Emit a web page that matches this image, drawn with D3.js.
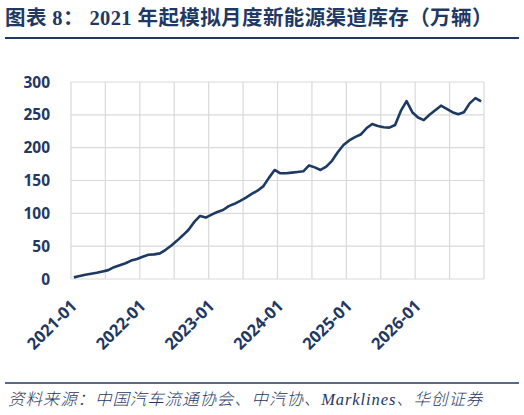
<!DOCTYPE html>
<html><head><meta charset="utf-8">
<script src="https://cdn.jsdelivr.net/npm/d3@7/dist/d3.min.js"></script>
<style>
html,body{margin:0;padding:0;background:#fff;}
svg{display:block;}
</style>
</head><body>
<svg id="c" width="524" height="415"></svg>
<script>
// ---- data ----
const titleText = "图表 8： 2021 年起模拟月度新能源渠道库存（万辆）";
const sourceText = "资料来源：中国汽车流通协会、中汽协、Marklines、华创证券";
const years = [2021, 2022, 2023, 2024, 2025, 2026];
const months = [];
years.forEach(y => { for (let m = 1; m <= 12; m++) months.push(y + "-" + String(m).padStart(2, "0")); });
const inventory = [
  2.5, 4.5, 6.5, 8, 9.5, 11.5, 13.5, 18, 21, 24, 28, 30.5,
  34, 37, 37.5, 39, 44.5, 51, 58.5, 66.5, 75, 87, 96, 93.5,
  98, 102, 105, 111, 114.5, 119, 124, 129.5, 134.5, 141, 154, 166,
  161, 161, 162, 163, 164, 173, 170, 166, 171, 180, 193, 204,
  211, 216, 220, 229.5, 236, 233, 231, 230.5, 234.5, 256, 271, 254,
  246, 242, 250, 257, 264, 259, 254, 251, 254, 267.5, 275.5, 270.5
];
const yTicks = [0, 50, 100, 150, 200, 250, 300];
const xLabels = ["2021-01", "2022-01", "2023-01", "2024-01", "2025-01", "2026-01"];

// ---- drawing ----
const navy = "#1f3864";
const lineColor = "#1c3a63";
const grid = "#d9d9d9";
const svg = d3.select("#c");
const L = 71, R = 484, T = 82, B = 279;

const x = d3.scaleBand().domain(months).range([L, R]).padding(0);
const y = d3.scaleLinear().domain([0, 300]).range([B, T]);
const cx = d => x(d) + x.bandwidth() / 2;

// title
svg.append("text").attr("x", 5).attr("y", 25)
  .attr("font-family", "'Liberation Serif','Noto Sans CJK SC',serif")
  .attr("font-weight", "bold").attr("font-size", 20.5).attr("fill", navy)
  .attr("letter-spacing", 0.4)
  .text(titleText);
svg.append("line").attr("x1", 5).attr("x2", 519).attr("y1", 38).attr("y2", 38)
  .attr("stroke", navy).attr("stroke-width", 2);

// gridlines horizontal
svg.append("g").selectAll("line").data(yTicks).join("line")
  .attr("x1", L).attr("x2", R).attr("y1", d => y(d)).attr("y2", d => y(d))
  .attr("stroke", grid).attr("stroke-width", 1.2);
// gridlines vertical (every 6 months)
const vx = months.filter((d, i) => i % 6 === 0).map(d => x(d)).concat([R]);
svg.append("g").selectAll("line").data(vx).join("line")
  .attr("x1", d => d).attr("x2", d => d).attr("y1", T).attr("y2", B)
  .attr("stroke", grid).attr("stroke-width", 1.2);

// y axis labels
svg.append("g").selectAll("text").data(yTicks).join("text")
  .attr("x", 50).attr("y", d => y(d)).attr("dy", "0.36em")
  .attr("text-anchor", "end")
  .attr("font-family", "'Open Sans',sans-serif").attr("font-weight", "bold")
  .attr("font-size", 15.5).attr("fill", navy)
  .text(d => d);

// x axis labels
svg.append("g").selectAll("text").data(xLabels).join("text")
  .attr("transform", d => `translate(${cx(d) + 4},${307}) rotate(-45)`)
  .attr("text-anchor", "end")
  .attr("font-family", "'Open Sans',sans-serif").attr("font-weight", "bold")
  .attr("font-size", 16.5).attr("fill", navy)
  .text(d => d);

// line
const line = d3.line().x((d, i) => cx(months[i])).y(d => y(d));
svg.append("path").datum(inventory).attr("d", line)
  .attr("fill", "none").attr("stroke", lineColor).attr("stroke-width", 2.6)
  .attr("stroke-linejoin", "round");

// footer
svg.append("line").attr("x1", 5).attr("x2", 519).attr("y1", 383).attr("y2", 383)
  .attr("stroke", navy).attr("stroke-width", 1.5);
svg.append("text").attr("x", 8).attr("y", 405)
  .attr("font-family", "'Liberation Serif','Noto Sans CJK SC',serif")
  .attr("font-style", "italic").attr("font-size", 16.5).attr("fill", navy)
  .attr("font-weight", 300).attr("letter-spacing", 0.9)
  .text(sourceText);
</script>
</body></html>
